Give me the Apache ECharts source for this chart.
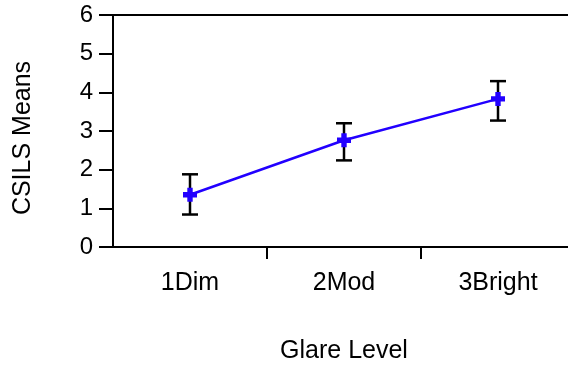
<!DOCTYPE html>
<html><head><meta charset="utf-8">
<script src="https://cdn.jsdelivr.net/npm/echarts@6/dist/echarts.min.js"></script>
<style>html,body{margin:0;padding:0;background:#fff}#c{width:568px;height:369px}</style>
</head><body><div id="c"></div>
<script>
var categories = ['1Dim', '2Mod', '3Bright'];
var means = [1.35, 2.76, 3.83];
var lower = [0.84, 2.24, 3.27];
var upper = [1.88, 3.20, 4.29];
var yTicks = [0, 1, 2, 3, 4, 5, 6];

var FONT = '"Liberation Sans", Arial, sans-serif';
var chart = echarts.init(document.getElementById('c'), null, {renderer: 'canvas'});
var plus = 'path://M-2.5,-6.5L2.5,-6.5L2.5,-2.5L6.5,-2.5L6.5,2.5L2.5,2.5L2.5,6.5L-2.5,6.5L-2.5,2.5L-6.5,2.5L-6.5,-2.5L-2.5,-2.5Z';
chart.setOption({
  animation: false,
  grid: {left: 113, top: 15, width: 462, height: 232, show: true, borderColor: '#000', borderWidth: 2,
         containLabel: false, outerBoundsMode: 'none'},
  xAxis: {
    type: 'category', data: categories, boundaryGap: true,
    name: 'Glare Level', nameLocation: 'middle', nameGap: 92,
    nameTextStyle: {fontFamily: FONT, fontSize: 25, color: '#000'},
    axisLine: {lineStyle: {color: '#000', width: 2}},
    axisTick: {show: true, length: 12, interval: function (i) { return i > 0; }, lineStyle: {color: '#000', width: 2}},
    axisLabel: {fontFamily: FONT, fontSize: 25, color: '#000', margin: 24},
    splitLine: {show: false}
  },
  yAxis: {
    type: 'value', min: yTicks[0], max: yTicks[yTicks.length - 1], interval: 1,
    name: 'CSILS Means', nameLocation: 'middle', nameGap: 77, nameRotate: 90,
    nameTextStyle: {fontFamily: FONT, fontSize: 25, color: '#000', padding: [0, 14, 0, 0]},
    axisLine: {show: true, lineStyle: {color: '#000', width: 2}},
    axisTick: {show: true, length: 14, lineStyle: {color: '#000', width: 2}},
    axisLabel: {fontFamily: FONT, fontSize: 24, color: '#000', margin: 20},
    splitLine: {show: false}
  },
  series: [
    {
      type: 'custom',
      data: categories.map(function (c, i) { return [i, lower[i], upper[i]]; }),
      renderItem: function (params, api) {
        var lo = api.coord([api.value(0), api.value(1)]);
        var hi = api.coord([api.value(0), api.value(2)]);
        var hw = 8;
        var st = {stroke: '#000', lineWidth: 2.5};
        return {type: 'group', children: [
          {type: 'line', shape: {x1: lo[0], y1: lo[1], x2: hi[0], y2: hi[1]}, style: st},
          {type: 'line', shape: {x1: lo[0] - hw, y1: lo[1], x2: lo[0] + hw, y2: lo[1]}, style: st},
          {type: 'line', shape: {x1: hi[0] - hw, y1: hi[1], x2: hi[0] + hw, y2: hi[1]}, style: st}
        ]};
      },
      z: 1
    },
    {
      type: 'line', data: means, symbol: plus, symbolSize: 14,
      lineStyle: {color: '#2200ff', width: 2.5},
      itemStyle: {color: '#2200ff'},
      z: 3
    }
  ]
});
</script></body></html>
